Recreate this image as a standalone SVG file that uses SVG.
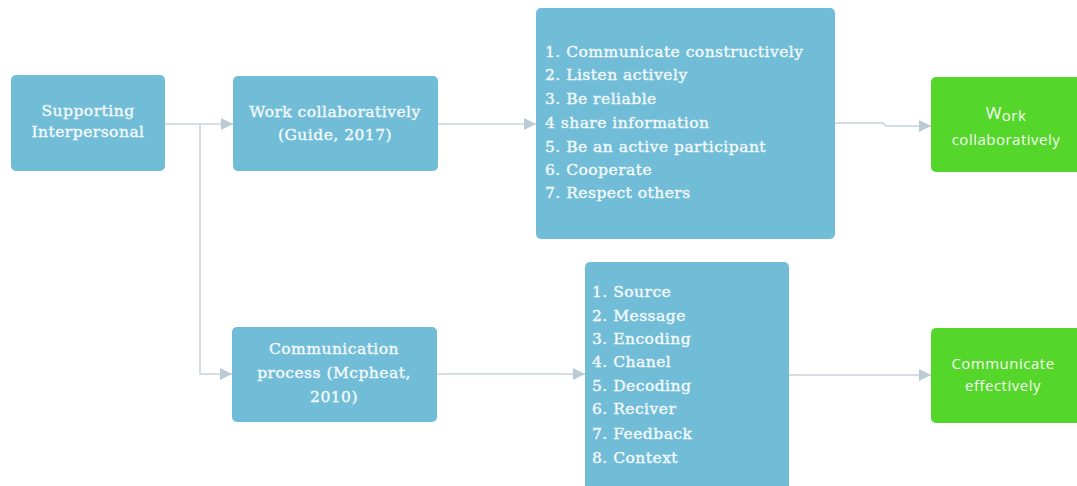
<svg xmlns="http://www.w3.org/2000/svg" width="1077" height="486" viewBox="0 0 1077 486">
  <style>
    .blue { fill: #71bdd8; }
    .green { fill: #55d62a; }
    .link { fill: none; stroke: #c4d4dc; stroke-width: 1.5; }
    .st { font-family: "DejaVu Serif", "Liberation Serif", serif; font-size: 15.5px; fill: #f4fafc; stroke: #f4fafc; stroke-width: 0.35px; letter-spacing: 0.48px; }
    .gt { font-family: "Open Sans", "Noto Sans", sans-serif; font-size: 15px; fill: #f4fbf0; letter-spacing: 0.5px; }
    .mid { text-anchor: middle; }
  </style>
  <defs>
    <marker id="arrow" markerWidth="12" markerHeight="12" refX="12" refY="6" orient="auto" markerUnits="userSpaceOnUse">
      <path d="M0,0 L12,6 L0,12 Z" fill="#b9cbd5"/>
    </marker>
  </defs>

  <rect width="1077" height="486" fill="#ffffff"/>

  <!-- connectors -->
  <g id="connectors">
    <path class="link" d="M165,124 H233" marker-end="url(#arrow)"/>
    <path class="link" d="M200,124 V374 H232" marker-end="url(#arrow)"/>
    <path class="link" d="M438,124 H536" marker-end="url(#arrow)"/>
    <path class="link" d="M835,123 H883 L886,126 H931" marker-end="url(#arrow)"/>
    <path class="link" d="M437,374 H585" marker-end="url(#arrow)"/>
    <path class="link" d="M789,375 H931" marker-end="url(#arrow)"/>
  </g>

  <g id="supporting">
    <rect class="blue" x="11" y="75" width="154" height="96" rx="5"/>
    <text class="st mid" x="88" y="116">Supporting</text>
    <text class="st mid" x="88" y="137">Interpersonal</text>
  </g>

  <g id="work-guide">
    <rect class="blue" x="233" y="76" width="205" height="95" rx="5"/>
    <text class="st mid" x="335" y="117">Work collaboratively</text>
    <text class="st mid" x="335" y="140">(Guide, 2017)</text>
  </g>

  <g id="work-list">
    <rect class="blue" x="536" y="8" width="299" height="231" rx="5"/>
    <text class="st" x="545" y="57">1. Communicate constructively</text>
    <text class="st" x="545" y="80">2. Listen actively</text>
    <text class="st" x="545" y="104">3. Be reliable</text>
    <text class="st" x="545" y="128">4 share information</text>
    <text class="st" x="545" y="152">5. Be an active participant</text>
    <text class="st" x="545" y="175">6. Cooperate</text>
    <text class="st" x="545" y="198">7. Respect others</text>
  </g>

  <g id="work-outcome">
    <rect class="green" x="931" y="77" width="160" height="95" rx="5"/>
    <text class="gt mid" x="1006" y="121"><tspan font-size="17px" dy="-2">W</tspan><tspan dy="2">ork</tspan></text>
    <text class="gt mid" x="1006" y="145">collaboratively</text>
  </g>

  <g id="communication-process">
    <rect class="blue" x="232" y="327" width="205" height="95" rx="5"/>
    <text class="st mid" x="334" y="354">Communication</text>
    <text class="st mid" x="334" y="378">process (Mcpheat,</text>
    <text class="st mid" x="334" y="402">2010)</text>
  </g>

  <g id="process-list">
    <rect class="blue" x="585" y="262" width="204" height="240" rx="5"/>
    <text class="st" x="592" y="297">1. Source</text>
    <text class="st" x="592" y="321">2. Message</text>
    <text class="st" x="592" y="344">3. Encoding</text>
    <text class="st" x="592" y="367">4. Chanel</text>
    <text class="st" x="592" y="391">5. Decoding</text>
    <text class="st" x="592" y="414">6. Reciver</text>
    <text class="st" x="592" y="439">7. Feedback</text>
    <text class="st" x="592" y="463">8. Context</text>
  </g>

  <g id="communicate-outcome">
    <rect class="green" x="931" y="328" width="160" height="95" rx="5"/>
    <text class="gt mid" x="1003" y="369">Communicate</text>
    <text class="gt mid" x="1003" y="391">effectively</text>
  </g>
</svg>
